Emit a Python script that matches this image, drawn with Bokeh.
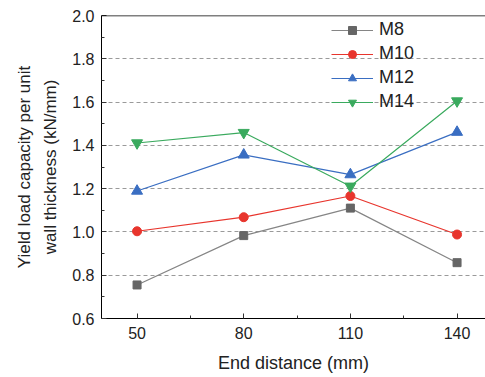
from bokeh.plotting import figure
from bokeh.models import FixedTicker, Range1d, Span, Legend, LegendItem, PrintfTickFormatter
from bokeh.embed import file_html
from bokeh.resources import INLINE

end_distance = [50, 80, 110, 140]
m8 = [0.755, 0.983, 1.110, 0.858]
m10 = [1.003, 1.068, 1.166, 0.988]
m12 = [1.189, 1.356, 1.265, 1.461]
m14 = [1.411, 1.459, 1.211, 1.605]
series_names = ["M8", "M10", "M12", "M14"]
x_ticks = [50, 80, 110, 140]
y_ticks = [0.6, 0.8, 1.0, 1.2, 1.4, 1.6, 1.8, 2.0]

FONT = "Liberation Sans"

p = figure(width=485, height=377, output_backend="svg", toolbar_location=None,
           x_range=Range1d(40, 148), y_range=Range1d(0.6, 2.0),
           min_border_left=101, min_border_right=0, min_border_top=15,
           min_border_bottom=59)
p.outline_line_color = None
p.background_fill_color = "white"
p.border_fill_color = "white"

# axes
p.xaxis.ticker = FixedTicker(ticks=x_ticks, minor_ticks=[65, 95, 125])
p.yaxis.ticker = FixedTicker(ticks=y_ticks, minor_ticks=[0.7, 0.9, 1.1, 1.3, 1.5, 1.7, 1.9])
p.yaxis.formatter = PrintfTickFormatter(format="%.1f")
for ax in (p.xaxis, p.yaxis):
    ax.axis_line_color = "black"
    ax.axis_line_width = 1
    ax.major_tick_in = 5
    ax.major_tick_out = 0
    ax.minor_tick_in = 3
    ax.minor_tick_out = 0
    ax.major_tick_line_color = "#333333"
    ax.minor_tick_line_color = "#333333"
    ax.major_label_text_font = FONT
    ax.major_label_text_font_size = "16px"
    ax.major_label_text_color = "#222222"
    ax.axis_label_text_font = FONT
    ax.axis_label_text_font_size = "18px"
    ax.axis_label_text_font_style = "normal"
    ax.axis_label_text_color = "#222222"
p.xaxis.major_label_standoff = 8
p.yaxis.major_label_standoff = 7
p.xaxis.axis_label = "End distance (mm)"
p.xaxis.axis_label_standoff = 11
p.yaxis.axis_label = "Yield load capacity per unit\nwall thickness (kN/mm)"
p.yaxis.axis_label_text_font_size = "17px"
p.yaxis.axis_label_text_line_height = 1.4
p.yaxis.axis_label_text_align = "center"
p.yaxis.axis_label_standoff = 9

# grid
p.xgrid.visible = False
p.ygrid.ticker = FixedTicker(ticks=[0.8, 1.0, 1.2, 1.4, 1.6, 1.8])
p.ygrid.grid_line_color = "#9a9a9a"
p.ygrid.grid_line_dash = "4 3"
p.ygrid.grid_line_width = 1

# top border
p.add_layout(Span(location=2.0, dimension="width", line_color="black", line_width=1.5))

styles = [
    (m8, "#858585", "#666666", "square", 8),
    (m10, "#e8352d", "#e8352d", "circle", 9),
    (m12, "#3a6ec2", "#3a6ec2", "triangle", 11),
    (m14, "#3aaa5e", "#3aaa5e", "inverted_triangle", 11),
]
items = []
for (vals, lc, mc, mk, sz), name in zip(styles, series_names):
    r1 = p.line(end_distance, vals, line_color=lc, line_width=1.2)
    r2 = p.scatter(end_distance, vals, marker=mk, size=sz, fill_color=mc, line_color=mc)
    items.append(LegendItem(label=name, renderers=[r1, r2]))

legend = Legend(items=items, location=(230, 206), padding=0, margin=0,
                border_line_color=None, background_fill_alpha=0,
                glyph_width=42, glyph_height=20, label_height=20, spacing=3,
                label_standoff=6, label_text_font=FONT, label_text_font_size="18px",
                label_text_color="#222222")
p.add_layout(legend, "center")

open("out.html", "w").write(file_html(p, INLINE))
